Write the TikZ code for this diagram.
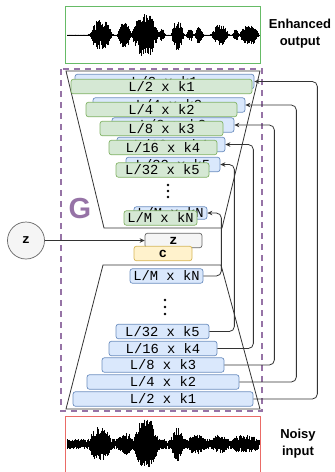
\documentclass[tikz,border=0pt]{standalone}
\usepackage{fontspec}
\setmainfont{Liberation Sans}
\newfontfamily\monof{Liberation Mono}
\usetikzlibrary{arrows.meta}
\definecolor{bfill}{HTML}{DAE8FC}
\definecolor{bline}{HTML}{6C8EBF}
\definecolor{gfill}{HTML}{D5E8D4}
\definecolor{gline}{HTML}{82B366}
\definecolor{zfill}{HTML}{F5F5F5}
\definecolor{zline}{HTML}{666666}
\definecolor{yfill}{HTML}{FFF2CC}
\definecolor{yline}{HTML}{D6B656}
\definecolor{purp}{HTML}{9673A6}
\definecolor{wgreen}{HTML}{66BB66}
\definecolor{wred}{HTML}{EA6B66}
\definecolor{dark}{HTML}{333333}
\pgfmathdeclarefunction{bu}{4}{\pgfmathparse{#4*exp(-1*pow(min(((#1-#2)/#3)^2,3.5),2))}}
\tikzset{
 blk/.style={rectangle, rounded corners=2.5pt, inner sep=0pt, minimum height=14.5pt, font=\monof\fontsize{13.8}{14}\selectfont, line width=0.7pt},
 bb/.style={blk, draw=bline, fill=bfill},
 gb/.style={blk, draw=gline, fill=gfill},
 conn/.style={draw=dark, line width=0.8pt, rounded corners=5pt, -{Stealth[length=5pt,width=4.5pt]}},
 trap/.style={draw=dark, line width=0.8pt},
 wave/.style={line width=0.5pt, black},
 lbl/.style={font=\bfseries\fontsize{13}{17}\selectfont, align=center},
 dotn/.style={circle, fill=black, inner sep=0pt, minimum size=2.8pt},
}
\begin{document}
\begin{tikzpicture}[x=1pt,y=-1pt]
\useasboundingbox (0,0) rectangle (335,472);
% waveform boxes
\draw[wgreen, line width=0.8pt] (65.5,6) rectangle (260,63);
\draw[wred, line width=0.8pt] (65.5,416) rectangle (260,480);
\node[lbl] (eo) at (300,34) {Enhanced\\output};
\node[lbl] (ni) at (298,444) {Noisy\\input};
% enhanced waveform
\draw[wave, line width=0.6pt] (67,35) -- (259.5,35);
\pgfmathsetseed{11}
\foreach \i in {0,...,640} {
  \pgfmathsetmacro{\xx}{67+\i*0.3}
  \pgfmathsetmacro{\env}{0.4+bu(\xx,101,9,15)+bu(\xx,124,5.5,12)+bu(\xx,145,11,21)+bu(\xx,162,2.5,6)+bu(\xx,177.5,5,15)+bu(\xx,190,3,6)+bu(\xx,199,3.5,9)+bu(\xx,220,7,10)+bu(\xx,235.5,2.5,5)+bu(\xx,249,8,9)}
  \pgfmathsetmacro{\up}{\env*(0.2+0.8*rnd)}
  \pgfmathsetmacro{\dn}{\env*(0.2+0.8*rnd)}
  \draw[wave] (\xx,35-\up) -- (\xx,35+\dn);
}
% noisy waveform
\pgfmathsetseed{23}
\foreach \i in {0,...,640} {
  \pgfmathsetmacro{\xx}{67+\i*0.3}
  \pgfmathsetmacro{\env}{5+bu(\xx,100,9,12)+bu(\xx,125,6,6)+bu(\xx,146,10,20)+bu(\xx,177,5,12)+bu(\xx,196,7,5)+bu(\xx,219,6,5)+bu(\xx,245,11,4)}
  \pgfmathsetmacro{\up}{\env*(0.15+0.85*rnd)}
  \pgfmathsetmacro{\dn}{\env*(0.15+0.85*rnd)}
  \draw[wave] (\xx,444-\up) -- (\xx,444+\dn);
}
% trapezoids
\draw[trap] (66,71) -- (260,71) -- (222,228) -- (104,228) -- cycle;
\draw[trap] (103,265) -- (221,265) -- (260,409) -- (66,409) -- cycle;
% generator frame
\draw[purp, line width=2.2pt, dash pattern=on 6pt off 5pt] (61,69) rectangle (262,411);
\node[text=purp, font=\bfseries\fontsize{29}{30}\selectfont] (G) at (80,209) {G};
% decoder blocks
\node[bb, minimum width=179pt] (d1b) at (164.5,81.5) {L/2 x k1};
\node[gb, minimum width=181pt] (d1g) at (161.5,86.5) {L/2 x k1};
\node[bb, minimum width=152pt] (d2b) at (169,105) {L/4 x k2};
\node[gb, minimum width=151pt] (d2g) at (161.5,109.5) {L/4 x k2};
\node[bb, minimum width=122pt] (d3b) at (173,125) {L/8 x k3};
\node[gb, minimum width=123pt] (d3g) at (161.5,128.5) {L/8 x k3};
\node[bb, minimum width=108pt] (d4b) at (171,144.5) {L/16 x k4};
\node[gb, minimum width=108pt] (d4g) at (163,147.5) {L/16 x k4};
\node[bb, minimum width=94pt] (d5b) at (173,164.5) {L/32 x k5};
\node[gb, minimum width=93pt] (d5g) at (162.5,170) {L/32 x k5};
\node[dotn] (dd1) at (168,185) {};
\node[dotn] (dd2) at (168,191) {};
\node[dotn] (dd3) at (168,197) {};
\node[bb, minimum width=73pt, minimum height=12.5pt] (dMb) at (170.5,213) {L/M x kN};
\node[gb, minimum width=73pt] (dMg) at (160.5,218) {L/M x kN};
% latent
\node[blk, draw=zline, fill=zfill, minimum width=57pt, font=\monof\bfseries\fontsize{13.5}{14}\selectfont] (zn) at (173.5,240.5) {z};
\node[blk, draw=yline, fill=yfill, minimum width=58pt, font=\monof\bfseries\fontsize{13.5}{14}\selectfont] (cn) at (163,253.5) {c};
\node[circle, draw=zline, fill=zfill, line width=0.7pt, minimum size=37pt, inner sep=0pt, font=\monof\bfseries\fontsize{13}{14}\selectfont] (zc) at (26,240.5) {z};
\draw[conn] (zc.east) -- (zn.west);
% encoder blocks
\node[bb, minimum width=73pt] (eM) at (166.5,276) {L/M x kN};
\node[dotn] (ed1) at (165,300) {};
\node[dotn] (ed2) at (165,307) {};
\node[dotn] (ed3) at (165,314) {};
\node[bb, minimum width=93pt] (e5) at (162.5,331.5) {L/32 x k5};
\node[bb, minimum width=108pt] (e4) at (163,348.5) {L/16 x k4};
\node[bb, minimum width=122pt] (e3) at (163,365) {L/8 x k3};
\node[bb, minimum width=152pt] (e2) at (163,382) {L/4 x k2};
\node[bb, minimum width=180pt] (e1) at (163,399) {L/2 x k1};
% skip connections
\draw[conn] (e1.east) -- ++(64,0) |- (d1b.east);
\draw[conn] (e2.east) -- ++(57,0) |- (d2b.east);
\draw[conn] (e3.east) -- ++(50,0) |- (d3b.east);
\draw[conn] (e4.east) -- ++(36,0) |- (d4b.east);
\draw[conn] (e5.east) -- ++(25,0) |- (d5b.east);
\draw[conn] (eM.east) -- ++(18,0) |- (dMb.east);
\end{tikzpicture}
\end{document}
